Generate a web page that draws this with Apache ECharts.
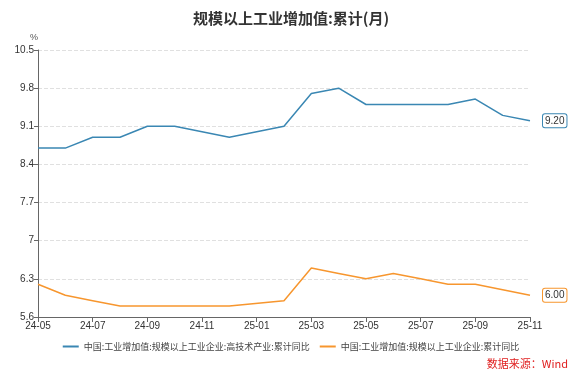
<!DOCTYPE html>
<html>
<head>
    <meta charset="utf-8">
    <script src="https://cdn.jsdelivr.net/npm/echarts@6/dist/echarts.min.js"></script>
</head>
<body style="margin:0;">
    <div id="main" style="width:582px;height:375px;"></div>
    <script>
        var months = ['24-05', '24-06', '24-07', '24-08', '24-09', '24-10', '24-11', '24-12', '25-01', '25-02',
            '25-03', '25-04', '25-05', '25-06', '25-07', '25-08', '25-09', '25-10', '25-11'];
        // 高技术产业
        var hiTech = [8.7, 8.7, 8.9, 8.9, 9.1, 9.1, 9.0, 8.9, null, 9.1, 9.7, 9.8, 9.5, 9.5, 9.5, 9.5, 9.6, 9.3, 9.2];
        // 规模以上工业企业
        var total = [6.2, 6.0, 5.9, 5.8, 5.8, 5.8, 5.8, 5.8, null, 5.9, 6.5, 6.4, 6.3, 6.4, 6.3, 6.2, 6.2, 6.1, 6.0];
        var names = ['中国:工业增加值:规模以上工业企业:高技术产业:累计同比', '中国:工业增加值:规模以上工业企业:累计同比'];
        var colors = ['#3a87b3', '#f7962e'];

        var myChart = echarts.init(document.getElementById('main'));

        function makeSeries(i, data) {
            return {
                name: names[i],
                type: 'line',
                data: data,
                connectNulls: true,
                symbol: 'none',
                lineStyle: { width: 1.5, color: colors[i] },
                itemStyle: { color: colors[i] },
                endLabel: {
                    show: true,
                    formatter: function (p) { return p.value.toFixed(2); },
                    distance: 13,
                    color: '#333',
                    fontSize: 10,
                    backgroundColor: '#fff',
                    borderColor: colors[i],
                    borderWidth: 1,
                    borderRadius: 2,
                    padding: [2, 2, 1, 2]
                }
            };
        }

        var option = {
            animation: false,
            title: {
                text: '规模以上工业增加值:累计(月)',
                left: 'center',
                top: 6,
                textStyle: { fontSize: 15, fontWeight: 'bold', color: '#333', fontFamily: 'Noto Sans CJK SC' }
            },
            legend: {
                bottom: 19,
                left: 'center',
                itemWidth: 16,
                itemHeight: 2,
                itemGap: 10,
                icon: 'rect',
                textStyle: { fontSize: 9, color: '#444', fontFamily: 'Noto Sans CJK SC' },
                data: names
            },
            graphic: [{
                type: 'text',
                right: 14,
                bottom: 6,
                style: { text: '数据来源：Wind', fill: '#e02020', font: '11px "Noto Sans CJK SC"' }
            }],
            grid: { left: 38, right: 52, top: 50, bottom: 58 },
            xAxis: {
                type: 'category',
                data: months,
                boundaryGap: false,
                axisLine: { lineStyle: { color: '#666' } },
                axisTick: { interval: 1, alignWithLabel: true, lineStyle: { color: '#666' } },
                axisLabel: { interval: 1, color: '#333', fontSize: 10, margin: 4 }
            },
            yAxis: {
                type: 'value',
                name: '%',
                nameGap: 8,
                nameTextStyle: { color: '#555', fontSize: 9, align: 'right' },
                min: 5.6,
                max: 10.5,
                interval: 0.7,
                axisLine: { show: true, lineStyle: { color: '#666' } },
                axisTick: { show: true, length: 4, lineStyle: { color: '#666' } },
                axisLabel: { color: '#333', fontSize: 10, margin: 4 },
                splitLine: { lineStyle: { type: 'dashed', color: '#e0e0e0' } }
            },
            series: [makeSeries(0, hiTech), makeSeries(1, total)]
        };

        myChart.setOption(option);
    </script>
</body>
</html>
